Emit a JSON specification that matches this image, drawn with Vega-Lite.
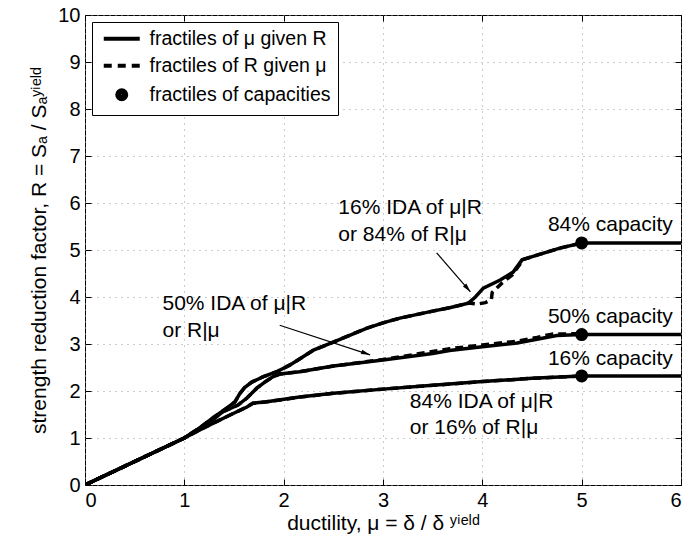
{
  "$schema": "https://vega.github.io/schema/vega-lite/v6.json",
  "width": 596,
  "height": 470,
  "autosize": {"type": "none"},
  "padding": {"left": 85, "top": 15, "right": 19, "bottom": 64},
  "background": "white",
  "config": {
    "font": "Liberation Sans",
    "view": {"stroke": "black", "strokeWidth": 1},
    "axis": {
      "labelFont": "Liberation Sans",
      "labelFontSize": 20,
      "labelColor": "black",
      "titleFont": "Liberation Sans",
      "titleFontSize": 21,
      "titleFontWeight": "normal",
      "titleColor": "black",
      "tickColor": "black",
      "tickSize": -6,
      "tickWidth": 1,
      "domain": false,
      "gridColor": "#9a9a9a",
      "gridDash": [1, 5],
      "gridWidth": 1
    }
  },
  "datasets": {
    "mu_given_R": [
      {"fractile": "16%", "mu": 0, "R": 0},
      {"fractile": "16%", "mu": 1, "R": 1},
      {"fractile": "16%", "mu": 1.15, "R": 1.21},
      {"fractile": "16%", "mu": 1.29, "R": 1.43},
      {"fractile": "16%", "mu": 1.43, "R": 1.64},
      {"fractile": "16%", "mu": 1.51, "R": 1.77},
      {"fractile": "16%", "mu": 1.56, "R": 1.95},
      {"fractile": "16%", "mu": 1.61, "R": 2.08},
      {"fractile": "16%", "mu": 1.68, "R": 2.19},
      {"fractile": "16%", "mu": 1.79, "R": 2.3},
      {"fractile": "16%", "mu": 1.93, "R": 2.41},
      {"fractile": "16%", "mu": 2.06, "R": 2.55},
      {"fractile": "16%", "mu": 2.16, "R": 2.68},
      {"fractile": "16%", "mu": 2.3, "R": 2.87},
      {"fractile": "16%", "mu": 2.5, "R": 3.04},
      {"fractile": "16%", "mu": 2.84, "R": 3.34},
      {"fractile": "16%", "mu": 3.0, "R": 3.45},
      {"fractile": "16%", "mu": 3.17, "R": 3.55},
      {"fractile": "16%", "mu": 3.5, "R": 3.7},
      {"fractile": "16%", "mu": 3.67, "R": 3.77},
      {"fractile": "16%", "mu": 3.86, "R": 3.87},
      {"fractile": "16%", "mu": 3.93, "R": 4.0},
      {"fractile": "16%", "mu": 4.01, "R": 4.19},
      {"fractile": "16%", "mu": 4.18, "R": 4.36},
      {"fractile": "16%", "mu": 4.31, "R": 4.53},
      {"fractile": "16%", "mu": 4.4, "R": 4.79},
      {"fractile": "16%", "mu": 4.55, "R": 4.89},
      {"fractile": "16%", "mu": 4.78, "R": 5.04},
      {"fractile": "16%", "mu": 5, "R": 5.15},
      {"fractile": "16%", "mu": 6, "R": 5.15},
      {"fractile": "50%", "mu": 0, "R": 0},
      {"fractile": "50%", "mu": 1, "R": 1},
      {"fractile": "50%", "mu": 1.15, "R": 1.2},
      {"fractile": "50%", "mu": 1.28, "R": 1.38},
      {"fractile": "50%", "mu": 1.39, "R": 1.56},
      {"fractile": "50%", "mu": 1.54, "R": 1.7},
      {"fractile": "50%", "mu": 1.63, "R": 1.85},
      {"fractile": "50%", "mu": 1.73, "R": 2.06},
      {"fractile": "50%", "mu": 1.81, "R": 2.19},
      {"fractile": "50%", "mu": 1.89, "R": 2.3},
      {"fractile": "50%", "mu": 1.96, "R": 2.36},
      {"fractile": "50%", "mu": 2.16, "R": 2.41},
      {"fractile": "50%", "mu": 2.5, "R": 2.53},
      {"fractile": "50%", "mu": 3.0, "R": 2.66},
      {"fractile": "50%", "mu": 3.5, "R": 2.8},
      {"fractile": "50%", "mu": 3.67, "R": 2.86},
      {"fractile": "50%", "mu": 4.0, "R": 2.94},
      {"fractile": "50%", "mu": 4.35, "R": 3.02},
      {"fractile": "50%", "mu": 4.55, "R": 3.1},
      {"fractile": "50%", "mu": 4.75, "R": 3.18},
      {"fractile": "50%", "mu": 5, "R": 3.2},
      {"fractile": "50%", "mu": 6, "R": 3.2},
      {"fractile": "84%", "mu": 0, "R": 0},
      {"fractile": "84%", "mu": 1, "R": 1},
      {"fractile": "84%", "mu": 1.2, "R": 1.22},
      {"fractile": "84%", "mu": 1.46, "R": 1.49},
      {"fractile": "84%", "mu": 1.63, "R": 1.66},
      {"fractile": "84%", "mu": 1.69, "R": 1.74},
      {"fractile": "84%", "mu": 1.83, "R": 1.77},
      {"fractile": "84%", "mu": 2.16, "R": 1.87},
      {"fractile": "84%", "mu": 2.5, "R": 1.95},
      {"fractile": "84%", "mu": 3.0, "R": 2.04},
      {"fractile": "84%", "mu": 3.5, "R": 2.12},
      {"fractile": "84%", "mu": 4.0, "R": 2.2},
      {"fractile": "84%", "mu": 4.5, "R": 2.27},
      {"fractile": "84%", "mu": 5, "R": 2.32},
      {"fractile": "84%", "mu": 6, "R": 2.32}
    ],
    "R_given_mu": [
      {"fractile": "84%", "mu": 0, "R": 0},
      {"fractile": "84%", "mu": 1, "R": 1},
      {"fractile": "84%", "mu": 1.15, "R": 1.21},
      {"fractile": "84%", "mu": 1.29, "R": 1.43},
      {"fractile": "84%", "mu": 1.43, "R": 1.64},
      {"fractile": "84%", "mu": 1.51, "R": 1.77},
      {"fractile": "84%", "mu": 1.56, "R": 1.95},
      {"fractile": "84%", "mu": 1.61, "R": 2.08},
      {"fractile": "84%", "mu": 1.68, "R": 2.19},
      {"fractile": "84%", "mu": 1.79, "R": 2.3},
      {"fractile": "84%", "mu": 1.93, "R": 2.41},
      {"fractile": "84%", "mu": 2.06, "R": 2.55},
      {"fractile": "84%", "mu": 2.16, "R": 2.68},
      {"fractile": "84%", "mu": 2.3, "R": 2.87},
      {"fractile": "84%", "mu": 2.5, "R": 3.04},
      {"fractile": "84%", "mu": 2.84, "R": 3.34},
      {"fractile": "84%", "mu": 3.0, "R": 3.45},
      {"fractile": "84%", "mu": 3.17, "R": 3.55},
      {"fractile": "84%", "mu": 3.5, "R": 3.7},
      {"fractile": "84%", "mu": 3.67, "R": 3.77},
      {"fractile": "84%", "mu": 3.86, "R": 3.87},
      {"fractile": "84%", "mu": 3.95, "R": 3.85},
      {"fractile": "84%", "mu": 4.03, "R": 3.88},
      {"fractile": "84%", "mu": 4.09, "R": 3.94},
      {"fractile": "84%", "mu": 4.1, "R": 4.1},
      {"fractile": "84%", "mu": 4.2, "R": 4.3},
      {"fractile": "84%", "mu": 4.3, "R": 4.47},
      {"fractile": "84%", "mu": 4.38, "R": 4.7},
      {"fractile": "84%", "mu": 4.4, "R": 4.79},
      {"fractile": "84%", "mu": 4.55, "R": 4.89},
      {"fractile": "84%", "mu": 4.78, "R": 5.04},
      {"fractile": "84%", "mu": 5, "R": 5.15},
      {"fractile": "50%", "mu": 0, "R": 0},
      {"fractile": "50%", "mu": 1, "R": 1},
      {"fractile": "50%", "mu": 1.15, "R": 1.2},
      {"fractile": "50%", "mu": 1.28, "R": 1.38},
      {"fractile": "50%", "mu": 1.39, "R": 1.56},
      {"fractile": "50%", "mu": 1.54, "R": 1.7},
      {"fractile": "50%", "mu": 1.63, "R": 1.85},
      {"fractile": "50%", "mu": 1.73, "R": 2.06},
      {"fractile": "50%", "mu": 1.81, "R": 2.19},
      {"fractile": "50%", "mu": 1.89, "R": 2.3},
      {"fractile": "50%", "mu": 1.96, "R": 2.36},
      {"fractile": "50%", "mu": 2.16, "R": 2.41},
      {"fractile": "50%", "mu": 2.5, "R": 2.53},
      {"fractile": "50%", "mu": 3.0, "R": 2.67},
      {"fractile": "50%", "mu": 3.5, "R": 2.84},
      {"fractile": "50%", "mu": 3.67, "R": 2.9},
      {"fractile": "50%", "mu": 4.0, "R": 2.98},
      {"fractile": "50%", "mu": 4.35, "R": 3.06},
      {"fractile": "50%", "mu": 4.55, "R": 3.14},
      {"fractile": "50%", "mu": 4.7, "R": 3.21},
      {"fractile": "50%", "mu": 5, "R": 3.22},
      {"fractile": "16%", "mu": 0, "R": 0},
      {"fractile": "16%", "mu": 1, "R": 1},
      {"fractile": "16%", "mu": 1.2, "R": 1.22},
      {"fractile": "16%", "mu": 1.46, "R": 1.49},
      {"fractile": "16%", "mu": 1.63, "R": 1.66},
      {"fractile": "16%", "mu": 1.69, "R": 1.74},
      {"fractile": "16%", "mu": 1.83, "R": 1.77},
      {"fractile": "16%", "mu": 2.16, "R": 1.87},
      {"fractile": "16%", "mu": 2.5, "R": 1.95},
      {"fractile": "16%", "mu": 3.0, "R": 2.04},
      {"fractile": "16%", "mu": 3.5, "R": 2.12},
      {"fractile": "16%", "mu": 4.0, "R": 2.2},
      {"fractile": "16%", "mu": 4.5, "R": 2.27},
      {"fractile": "16%", "mu": 5, "R": 2.32}
    ],
    "capacities": [
      {"kind": "fractiles of capacities", "fractile": "16%", "mu": 5, "R": 2.32},
      {"kind": "fractiles of capacities", "fractile": "50%", "mu": 5, "R": 3.2},
      {"kind": "fractiles of capacities", "fractile": "84%", "mu": 5, "R": 5.15}
    ],
    "notes": [
      {"text": "16% IDA of μ|R", "mu": 2.55, "R": 5.89},
      {"text": "or 84% of R|μ", "mu": 2.55, "R": 5.32},
      {"text": "50% IDA of μ|R", "mu": 0.78, "R": 3.86},
      {"text": "or R|μ", "mu": 0.78, "R": 3.27},
      {"text": "84% capacity", "mu": 4.66, "R": 5.53},
      {"text": "50% capacity", "mu": 4.66, "R": 3.57},
      {"text": "16% capacity", "mu": 4.66, "R": 2.68},
      {"text": "84% IDA of μ|R", "mu": 3.27, "R": 1.77},
      {"text": "or 16% of R|μ", "mu": 3.27, "R": 1.22}
    ],
    "arrows": [
      {"arrow": "16%", "mu": 3.54, "R": 4.94, "mu2": 3.88, "R2": 4.11},
      {"arrow": "50%", "mu": 1.96, "R": 3.4, "mu2": 2.87, "R2": 2.77}
    ]
  },
  "resolve": {"axis": {"x": "independent", "y": "independent"}},
  "layer": [
    {
      "data": {"name": "R_given_mu"},
      "mark": {"type": "line", "color": "black", "strokeWidth": 3.5, "strokeDash": [8, 5], "clip": true},
      "encoding": {
        "x": {
          "field": "mu", "type": "quantitative",
          "scale": {"domain": [0, 6], "nice": false, "zero": false},
          "axis": {
            "orient": "bottom",
            "values": [0, 1, 2, 3, 4, 5, 6],
            "grid": true,
            "labelPadding": 11,
            "titlePadding": 2,
            "title": "ductility, μ = δ / δ ʸⁱᵉˡᵈ"
          }
        },
        "y": {
          "field": "R", "type": "quantitative",
          "scale": {"domain": [0, 10], "nice": false, "zero": false},
          "axis": {
            "orient": "left",
            "values": [0, 1, 2, 3, 4, 5, 6, 7, 8, 9, 10],
            "grid": true,
            "labelPadding": 11,
            "titlePadding": 8,
            "title": "strength reduction factor, R = Sₐ / Sₐʸⁱᵉˡᵈ"
          }
        },
        "detail": {"field": "fractile"}
      }
    },
    {
      "data": {"name": "mu_given_R"},
      "mark": {"type": "line", "color": "black", "strokeWidth": 3.5, "clip": true},
      "encoding": {
        "x": {
          "field": "mu", "type": "quantitative",
          "axis": {"orient": "top", "values": [0, 1, 2, 3, 4, 5, 6], "labels": false, "grid": false, "title": null}
        },
        "y": {
          "field": "R", "type": "quantitative",
          "axis": {"orient": "right", "values": [0, 1, 2, 3, 4, 5, 6, 7, 8, 9, 10], "labels": false, "grid": false, "title": null}
        },
        "detail": {"field": "fractile"}
      }
    },
    {
      "data": {"name": "arrows"},
      "mark": {"type": "rule", "color": "black", "strokeWidth": 1.2},
      "encoding": {
        "x": {"field": "mu", "type": "quantitative", "axis": null},
        "y": {"field": "R", "type": "quantitative", "axis": null},
        "x2": {"field": "mu2"},
        "y2": {"field": "R2"}
      }
    },
    {
      "data": {"name": "arrows"},
      "transform": [{"filter": "datum.arrow === '16%'"}],
      "mark": {"type": "point", "shape": "M0,0L0.5,2L-0.5,2Z", "angle": 139.8, "size": 81, "filled": true, "color": "black", "opacity": 1},
      "encoding": {
        "x": {"field": "mu2", "type": "quantitative", "axis": null},
        "y": {"field": "R2", "type": "quantitative", "axis": null}
      }
    },
    {
      "data": {"name": "arrows"},
      "transform": [{"filter": "datum.arrow === '50%'"}],
      "mark": {"type": "point", "shape": "M0,0L0.5,2L-0.5,2Z", "angle": 108.4, "size": 81, "filled": true, "color": "black", "opacity": 1},
      "encoding": {
        "x": {"field": "mu2", "type": "quantitative", "axis": null},
        "y": {"field": "R2", "type": "quantitative", "axis": null}
      }
    },
    {
      "data": {"name": "capacities"},
      "mark": {"type": "point", "filled": false, "color": "black", "strokeWidth": 4, "size": 100, "opacity": 1},
      "encoding": {
        "x": {"field": "mu", "type": "quantitative", "axis": null},
        "y": {"field": "R", "type": "quantitative", "axis": null},
        "shape": {
          "field": "kind", "type": "nominal",
          "scale": {
            "domain": ["fractiles of μ given R", "fractiles of R given μ", "fractiles of capacities"],
            "range": [
              "M-3.6,0H3.6",
              "M-3.6,0H-2M-0.8,0H0.8M2,0H3.6",
              "M-0.9,0A0.9,0.9 0 1,0 0.9,0A0.9,0.9 0 1,0 -0.9,0ZM-0.35,0A0.35,0.35 0 1,0 0.35,0A0.35,0.35 0 1,0 -0.35,0Z"
            ]
          },
          "legend": {
            "title": null,
            "orient": "top-left",
            "offset": 7,
            "padding": 7,
            "fillColor": "white",
            "strokeColor": "black",
            "rowPadding": 6,
            "symbolSize": 100,
            "symbolOffset": 13,
            "labelOffset": 18,
            "symbolStrokeColor": "black",
            "symbolStrokeWidth": 4,
            "symbolOpacity": 1,
            "labelFont": "Liberation Sans",
            "labelFontSize": 19.5,
            "labelColor": "black",
            "labelLimit": 0
          }
        }
      }
    },
    {
      "data": {"name": "notes"},
      "mark": {"type": "text", "align": "left", "baseline": "middle", "font": "Liberation Sans", "fontSize": 21, "color": "black"},
      "encoding": {
        "x": {"field": "mu", "type": "quantitative", "axis": null},
        "y": {"field": "R", "type": "quantitative", "axis": null},
        "text": {"field": "text"}
      }
    }
  ]
}
